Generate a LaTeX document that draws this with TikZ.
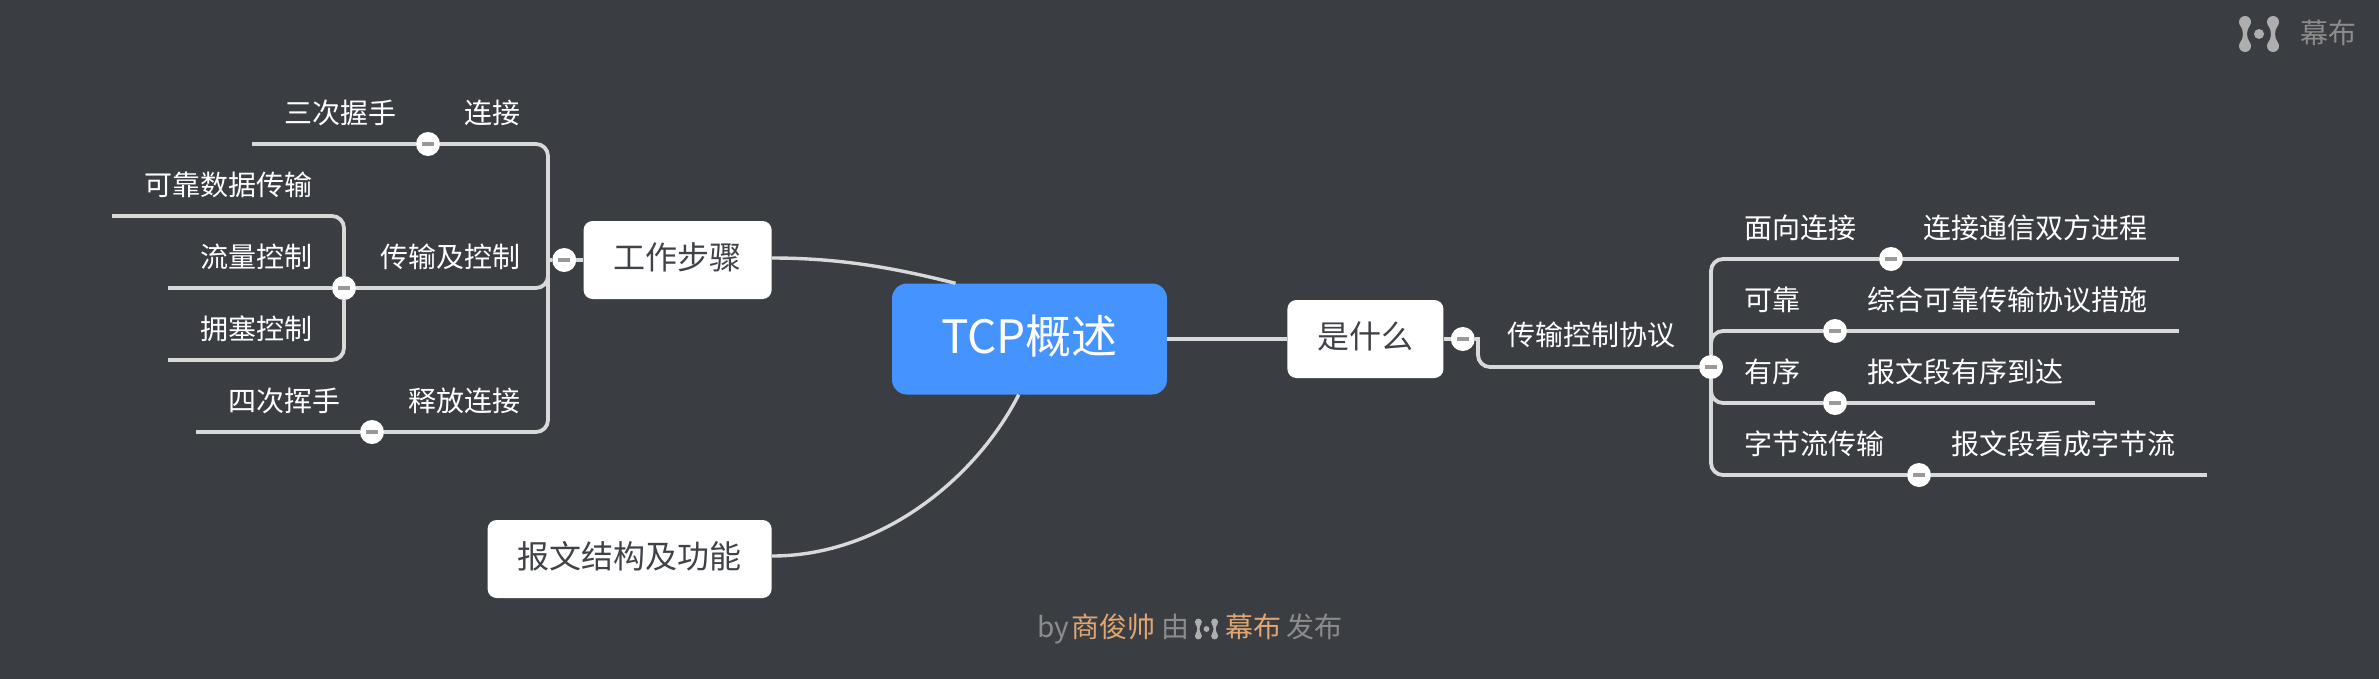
\documentclass[tikz,border=0pt]{standalone}
\usepackage{fontspec}
\setmainfont{Noto Sans CJK SC}
\usetikzlibrary{positioning}
\definecolor{pagebg}{HTML}{3A3D42}
\definecolor{rootblue}{HTML}{4593FF}
\definecolor{linegray}{HTML}{D9D9D9}
\definecolor{inkdark}{HTML}{3F4247}
\definecolor{minusgray}{HTML}{999999}
\definecolor{footgray}{HTML}{8C8C8C}
\definecolor{footorange}{HTML}{E0A672}
\newcommand{\minusbar}{\textcolor{minusgray}{\rule[-2pt]{12pt}{4pt}}}
\begin{document}
\begin{tikzpicture}[
        x=1pt, y=1pt,
        rootbox/.style={rectangle, fill=rootblue, text=white, rounded corners=15pt, minimum width=275pt, minimum height=111pt, inner sep=0pt, font=\fontsize{46}{54}\selectfont, text height=41pt, text depth=13pt},
        topic/.style={rectangle, fill=white, text=inkdark, rounded corners=9pt, minimum height=78pt, inner sep=0pt, font=\fontsize{32}{38}\selectfont, text height=28pt, text depth=9pt},
        leaf/.style={inner sep=0pt, text=white, font=\fontsize{28}{34}\selectfont, text height=24.6pt, text depth=3.4pt},
        foot/.style={inner sep=0pt, text=footgray, font=\fontsize{28}{34}\selectfont, text height=24pt, text depth=3pt},
        dot/.style={circle, fill=white, minimum size=24pt, inner sep=0pt},
        link/.style={draw=linegray, line width=3.8pt},
        corner/.style={link, rounded corners=12pt},
        curve/.style={draw=linegray, line width=3.4pt},
        mubu/.pic={
          \foreach \x in {-14,14} {
            \fill [footgray!70!white] (\x,12) circle (6);
            \fill [footgray!70!white] (\x,-12) circle (6);
            \fill [footgray!70!white] (\x-5,9) .. controls (\x-1,3) and (\x-1,-3) .. (\x-5,-9) -- (\x+5,-9) .. controls (\x+1,-3) and (\x+1,3) .. (\x+5,9) -- cycle;
          }
          \fill [footgray!70!white] (0,0) circle (5);
        },
      ]
      \useasboundingbox (0,0) rectangle (2379,-678);
      \fill [pagebg] (-3,3) rectangle (2382,-681);
      \node [rootbox] (root) at (1029.5,-339) {TCP概述};
      \node [topic, minimum width=188pt, left=120pt of root, yshift=79pt] (work) {工作步骤};
      \node [topic, minimum width=284pt, left=120pt of root, yshift=-220pt] (report) {报文结构及功能};
      \node [topic, minimum width=156pt, right=120pt of root] (what) {是什么};
      \node [dot, left=7pt of work] (workdot) {\minusbar};
      \node [dot, right=7pt of what] (whatdot) {\minusbar};
      \coordinate (ltrunk) at (548,-260);
      \coordinate (rbend) at (1478,-339);

      \node [dot] (conndot) at (428,-144) {\minusbar};
      \node [dot] (transdot) at (344,-288) {\minusbar};
      \node [dot] (freedot) at (372,-432) {\minusbar};
      \coordinate (connend) at (252,-144);
      \coordinate (reliableend) at (112,-216);
      \coordinate (flowend) at (168,-288);
      \coordinate (congestend) at (168,-360);
      \coordinate (freeend) at (196,-432);
      \node [leaf, anchor=east] (conn) at (521,-113) {连接};
      \node [leaf, anchor=east] (shake) at (397,-113) {三次握手};
      \node [leaf, anchor=east] (reliable) at (313,-185) {可靠数据传输};
      \node [leaf, anchor=east] (trans) at (521,-257) {传输及控制};
      \node [leaf, anchor=east] (flow) at (313,-257) {流量控制};
      \node [leaf, anchor=east] (congest) at (313,-329) {拥塞控制};
      \node [leaf, anchor=east] (free) at (521,-401) {释放连接};
      \node [leaf, anchor=east] (wave) at (341,-401) {四次挥手};

      \node [dot] (protodot) at (1711,-367) {\minusbar};
      \node [dot] (conntdot) at (1891,-259) {\minusbar};
      \node [dot] (reldot) at (1835,-331) {\minusbar};
      \node [dot] (orderdot) at (1835,-403) {\minusbar};
      \node [dot] (bytedot) at (1919,-475) {\minusbar};
      \coordinate (conntend) at (2179,-259);
      \coordinate (relend) at (2179,-331);
      \coordinate (orderend) at (2095,-403);
      \coordinate (byteend) at (2207,-475);
      \node [leaf, anchor=west] (proto) at (1507,-335) {传输控制协议};
      \node [leaf, anchor=west] (connt) at (1744,-228) {面向连接};
      \node [leaf, anchor=east] (connt2) at (2148,-228) {连接通信双方进程};
      \node [leaf, anchor=west] (rel) at (1744,-300) {可靠};
      \node [leaf, anchor=east] (rel2) at (2148,-300) {综合可靠传输协议措施};
      \node [leaf, anchor=west] (order) at (1744,-372) {有序};
      \node [leaf, anchor=east] (order2) at (2064,-372) {报文段有序到达};
      \node [leaf, anchor=west] (byte) at (1744,-444) {字节流传输};
      \node [leaf, anchor=east] (byte2) at (2176,-444) {报文段看成字节流};

      \draw [curve] ([yshift=2pt]work.east) .. controls (840,-258) and (895,-268) .. (root.143);
      \draw [curve] ([yshift=3pt]report.east) .. controls (884,-556) and (978,-475) .. (root.259);
      \draw [link] (root) -- (what);
      \draw [link] (workdot) -- (work);
      \draw [link] (workdot) -- (ltrunk);
      \draw [link] (whatdot) -- (what);
      \draw [link, shorten >=-1.9pt] (whatdot) -- (rbend);
      \draw [corner] (rbend) |- (protodot);

      \draw [link] (connend) -- (conndot);
      \draw [corner] (conndot) -| (ltrunk);
      \draw [corner] (transdot) -| (ltrunk);
      \draw [link] (freeend) -- (freedot);
      \draw [corner] (freedot) -| (ltrunk);
      \draw [link] (flowend) -- (transdot);
      \draw [corner] (transdot) |- (reliableend);
      \draw [corner] (transdot) |- (congestend);

      \draw [link] (conntend) -- (conntdot);
      \draw [corner] (conntdot) -| (protodot);
      \draw [link] (relend) -- (reldot);
      \draw [corner] (reldot) -| (protodot);
      \draw [link] (orderend) -- (orderdot);
      \draw [corner] (orderdot) -| (protodot);
      \draw [link] (byteend) -- (bytedot);
      \draw [corner] (bytedot) -| (protodot);

      \pic at (2259,-34) {mubu};
      \node [foot, anchor=west] (brand) at (2300,-33) {幕布};
      \node [foot, anchor=west] (byword) at (1037,-627) {by};
      \node [foot, text=footorange, right=2pt of byword] (author) {商俊帅};
      \node [foot, right=6pt of author] (viaword) {由};
      \pic [scale=0.58] at (1206.5,-629) {mubu};
      \node [foot, text=footorange, anchor=west] (mubuname) at (1225,-627) {幕布};
      \node [foot, right=5pt of mubuname] (release) {发布};
    \end{tikzpicture}
\end{document}
